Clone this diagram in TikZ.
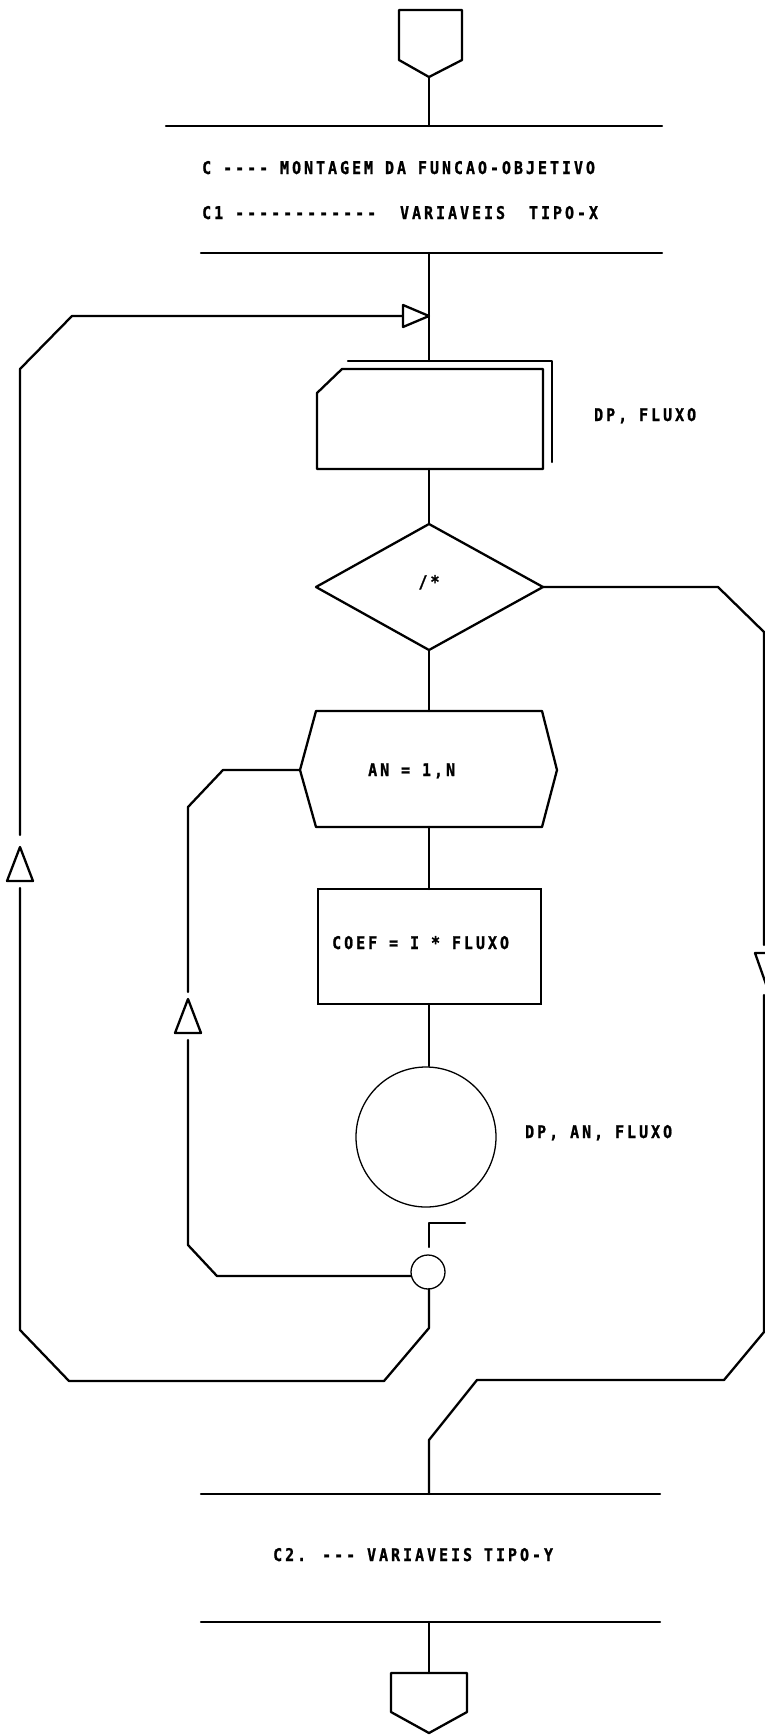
\documentclass[tikz,border=0pt]{standalone}
\usepackage{fontspec}
\newfontfamily\pf[FakeStretch=0.85,FakeBold=1.2,LetterSpace=17.4,Ligatures=TeXOff]{DejaVu Sans Mono}
\tikzset{
  ln/.style={line width=2.3pt, line join=round, line cap=round},
  thinln/.style={line width=1.3pt},
  lbl/.style={font=\pf\bfseries\fontsize{17.5}{19}\selectfont, inner sep=0pt, anchor=base west},
  tri/.style={ln, fill=white},
}
\begin{document}
\begin{tikzpicture}[x=1pt,y=-1pt]
\fill[white] (0,0) rectangle (765,1735);
\useasboundingbox (0,0) rectangle (765,1735);

% ---------- key coordinates ----------
\coordinate (start) at (429,77);
\coordinate (l1c) at (429,126);
\coordinate (l2c) at (429,253);
\coordinate (boxtop) at (429,361);
\coordinate (boxbot) at (429,469);
\coordinate (merge) at (429,316);
\coordinate (dtop) at (429,524);
\coordinate (dright) at (543,587);
\coordinate (dbot) at (429,650);
\coordinate (dleft) at (316,587);
\coordinate (htop) at (429,711);
\coordinate (hleft) at (300,770);
\coordinate (hbot) at (429,827);
\coordinate (rtop) at (429,889);
\coordinate (rbot) at (429,1004);
\coordinate (ctop) at (429,1066);
\coordinate (ccen) at (426,1137);
\coordinate (scen) at (428,1272);
\coordinate (sleft) at (411,1276);
\coordinate (sbot) at (429,1289);
\coordinate (l3c) at (429,1494);
\coordinate (l4c) at (429,1622);
\coordinate (end) at (429,1673);

% ---------- terminals ----------
\draw[ln] (399,10) -- (462,10) -- (462,60) -- (start) -- (399,60) -- cycle;
\draw[ln] (391,1673) -- (467,1673) -- (467,1712) -- (429,1733) -- (391,1712) -- cycle;

% ---------- separator lines ----------
\draw[ln] (166,126) -- (662,126);
\draw[ln] (201,253) -- (662,253);
\draw[ln] (201,1494) -- (660,1494);
\draw[ln] (201,1622) -- (660,1622);

% ---------- texts ----------
\node[lbl] (t1) at (202,174) {C ---- MONTAGEM DA FUNCAO-OBJETIVO};
\node[lbl] (t2) at (202,219) {C1 ------------~~VARIAVEIS~~TIPO-X};
\node[lbl] (t3) at (273,1561) {C2. --- VARIAVEIS TIPO-Y};
\node[lbl] (t4) at (594,421) {DP, FLUXO};
\node[lbl, anchor=base] (t5) at (429,588) {/*};
\node[lbl] (t6) at (368,776) {AN = 1,N};
\node[lbl] (t7) at (332,949) {COEF = I * FLUXO};
\node[lbl] (t8) at (525,1138) {DP, AN, FLUXO};

% ---------- shapes ----------
% input (card) box with double edge
\draw[ln] (342,369) -- (543,369) -- (543,469) -- (317,469) -- (317,393) -- cycle;
\draw[ln] (348,361) -- (552,361) -- (552,462);
% decision
\draw[ln] (dtop) -- (dright) -- (dbot) -- (dleft) -- cycle;
% loop hexagon
\draw[ln] (316,711) -- (542,711) -- (557,770) -- (542,827) -- (316,827) -- (hleft) -- cycle;
% process
\draw[line width=1.6pt] (318,889) rectangle (541,1004);
% connector circles
\draw[thinln] (ccen) circle[radius=70];
\draw[thinln] (scen) circle[radius=17];
% mark below circle
\draw[ln] (429,1247) -- (429,1223) -- (465,1223);

% ---------- main flow ----------
\draw[ln] (start) -- (l1c);
\draw[ln] (l2c) -- (boxtop);
\draw[ln] (boxbot) -- (dtop);
\draw[ln] (dbot) -- (htop);
\draw[ln] (hbot) -- (rtop);
\draw[ln] (rbot) -- (ctop);
\draw[ln] (l4c) -- (end);

% ---------- outer left loop ----------
\coordinate (oa) at (429,1328);
\coordinate (ob) at (384,1381);
\coordinate (oc) at (69,1381);
\coordinate (od) at (20,1330);
\coordinate (oe) at (20,888);
\coordinate (of) at (20,835);
\coordinate (og) at (20,369);
\coordinate (oh) at (72,316);
\coordinate (oi) at (403,316);
\draw[ln] (sbot) -- (oa) -- (ob) -- (oc) -- (od) -- (oe);
\draw[ln] (of) -- (og) -- (oh) -- (oi);
\draw[tri] (7,881) -- (20,847) -- (33,881) -- cycle;
\draw[tri] (403,305) -- (merge) -- (403,327) -- cycle;

% ---------- inner loop ----------
\coordinate (ia) at (217,1276);
\coordinate (ib) at (188,1245);
\coordinate (ic) at (188,1040);
\coordinate (id) at (188,992);
\coordinate (ie) at (188,807);
\coordinate (if) at (223,770);
\draw[ln] (sleft) -- (ia) -- (ib) -- (ic);
\draw[ln] (id) -- (ie) -- (if) -- (hleft);
\draw[tri] (175,1033) -- (188,999) -- (201,1033) -- cycle;

% ---------- right loop ----------
\coordinate (ra) at (718,587);
\coordinate (rb) at (764,632);
\coordinate (rc) at (764,945);
\coordinate (rd) at (764,995);
\coordinate (re) at (764,1332);
\coordinate (rf) at (724,1380);
\coordinate (rg) at (477,1380);
\coordinate (rh) at (429,1440);
\draw[ln] (dright) -- (ra) -- (rb) -- (rc);
\draw[ln] (rd) -- (re) -- (rf) -- (rg) -- (rh) -- (l3c);
\draw[tri] (755,953) -- (779,953) -- (767,987) -- cycle;
\end{tikzpicture}
\end{document}
